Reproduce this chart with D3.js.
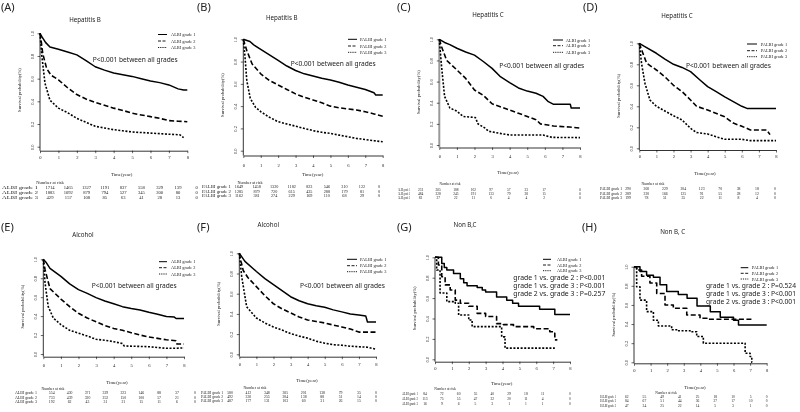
<!DOCTYPE html>
<html><head><meta charset="utf-8">
<script src="https://cdn.jsdelivr.net/npm/d3@7"></script>
<style>body{margin:0;background:#fff} svg{display:block;filter:grayscale(100%)}</style>
</head><body><svg id="c" width="800" height="412"></svg>
<script>
// ---------------- DATA ----------------
const timeTicks = [0,1,2,3,4,5,6,7,8];
const survTicks = [0,0.2,0.4,0.6,0.8,1.0];
const panelLetters = ["(A)","(B)","(C)","(D)","(E)","(F)","(G)","(H)"];
const panelTitles = ["Hepatitis B","Hepatitis B","Hepatitis C","Hepatitis C","Alcohol","Alcohol","Non B,C","Non B, C"];
const gradeLabelsALBI = ["ALBI grade 1","ALBI grade 2","ALBI grade 3"];
const gradeLabelsPALBI = ["PALBI grade 1","PALBI grade 2","PALBI grade 3"];
const pTextAll = ["P<0.001 between all grades"];
const pTextG = ["grade 1 vs. grade 2 : P<0.001","grade 1 vs. grade 3 : P<0.001","grade 2 vs. grade 3 : P=0.257"];
const pTextH = ["grade 1 vs. grade 2 : P=0.524","grade 1 vs. grade 3 : P<0.001","grade 2 vs. grade 3 : P<0.001"];
const yAxisTitle = "Survival probability(%)";
const xAxisTitle = "Time(year)";
const riskTitle = "Number at risk";

// survival curves [time(year), survival]
const survA1 = [[0,1],[0.1,0.97],[0.3,0.92],[0.54,0.88],[1,0.86],[1.5,0.835],[2,0.81],[2.5,0.76],[3,0.705],[3.5,0.675],[4,0.65],[4.5,0.635],[5,0.62],[5.5,0.6],[6,0.58],[6.5,0.565],[7,0.545],[7.5,0.51],[7.8,0.5],[8,0.5]];
const survA2 = [[0,1],[0.05,0.95],[0.15,0.82],[0.36,0.69],[0.6,0.63],[1,0.59],[1.5,0.52],[2,0.46],[2.5,0.42],[3,0.39],[3.5,0.365],[4,0.34],[4.5,0.32],[5,0.295],[5.5,0.28],[6,0.265],[6.5,0.25],[7,0.23],[7.5,0.225],[8,0.22]];
const survA3 = [[0,1],[0.05,0.9],[0.1,0.8],[0.27,0.56],[0.54,0.41],[1,0.34],[1.5,0.3],[2,0.25],[2.5,0.215],[3,0.18],[3.5,0.165],[4,0.15],[4.5,0.14],[5,0.13],[5.5,0.125],[6,0.12],[6.5,0.115],[7,0.11],[7.6,0.105],[7.8,0.08]];

const survB1 = [[0,1],[0.38,0.98],[0.6,0.95],[1,0.91],[1.5,0.86],[2,0.81],[2.5,0.76],[3,0.72],[3.5,0.69],[4,0.67],[4.5,0.65],[5,0.635],[5.5,0.615],[6,0.59],[6.5,0.57],[7,0.55],[7.5,0.52],[7.6,0.5],[8,0.5]];
const survB2 = [[0,1],[0.1,0.95],[0.2,0.9],[0.5,0.78],[1,0.69],[1.5,0.63],[2,0.59],[2.5,0.55],[3,0.51],[3.5,0.48],[4,0.455],[4.5,0.43],[5,0.4],[5.5,0.385],[6,0.375],[6.5,0.365],[7,0.35],[7.5,0.33],[8,0.31]];
const survB3 = [[0,1],[0.05,0.92],[0.1,0.84],[0.2,0.63],[0.4,0.47],[0.7,0.39],[1,0.35],[1.5,0.3],[2,0.26],[2.5,0.24],[3,0.22],[3.5,0.2],[4,0.18],[4.5,0.165],[5,0.155],[5.5,0.14],[6,0.125],[6.5,0.11],[7,0.1],[7.5,0.09],[8,0.08]];

const survC1 = [[0,1],[0.3,0.97],[0.6,0.95],[1,0.915],[1.5,0.88],[2,0.85],[2.5,0.79],[3,0.725],[3.45,0.65],[4,0.59],[4.5,0.54],[5,0.51],[5.5,0.49],[5.9,0.46],[6.2,0.41],[6.5,0.385],[7.45,0.385],[7.5,0.35],[8,0.35]];
const survC2 = [[0,1],[0.13,0.93],[0.42,0.8],[1,0.71],[1.5,0.63],[2,0.52],[2.5,0.47],[3,0.39],[3.5,0.36],[4,0.33],[4.5,0.3],[5,0.27],[5.5,0.24],[5.75,0.2],[6.5,0.18],[7.4,0.17],[8,0.16]];
const survC3 = [[0,1],[0.13,0.74],[0.3,0.46],[0.6,0.35],[1,0.32],[1.35,0.27],[2.05,0.26],[2.2,0.2],[2.6,0.16],[2.8,0.13],[3.45,0.11],[4,0.095],[5.9,0.095],[6.4,0.072],[8,0.07]];

const survD1 = [[0,1],[0.3,0.97],[1,0.905],[1.5,0.85],[2,0.8],[2.5,0.77],[3,0.73],[3.55,0.65],[4,0.587],[4.5,0.54],[5,0.49],[5.5,0.445],[6,0.4],[6.3,0.38],[8,0.38]];
const survD2 = [[0,1],[0.13,0.94],[0.43,0.81],[1,0.746],[1.5,0.68],[2,0.6],[2.5,0.54],[3,0.46],[3.35,0.4],[4,0.365],[5,0.3],[5.5,0.24],[6,0.21],[6.5,0.175],[7.45,0.175],[7.65,0.13]];
const survD3 = [[0,1],[0.13,0.81],[0.33,0.62],[0.62,0.46],[1,0.4],[2,0.31],[2.5,0.27],[3,0.19],[3.35,0.15],[4,0.137],[4.5,0.11],[5,0.086],[6,0.086],[6.5,0.073],[8,0.073]];

const survE1 = [[0,1],[0.15,0.97],[0.38,0.905],[1,0.82],[1.5,0.74],[2,0.68],[2.5,0.64],[3,0.595],[3.5,0.56],[4,0.53],[4.5,0.5],[5,0.48],[5.5,0.465],[6,0.44],[6.5,0.42],[7,0.395],[7.45,0.39],[7.55,0.375],[8,0.375]];
const survE2 = [[0,1],[0.1,0.89],[0.38,0.69],[1,0.58],[1.5,0.5],[2,0.43],[2.5,0.38],[3,0.34],[3.5,0.3],[4,0.27],[4.5,0.25],[5,0.225],[5.5,0.2],[6,0.18],[6.5,0.165],[7,0.15],[7.55,0.14],[7.6,0.105],[8,0.105]];
const survE3 = [[0,1],[0.1,0.75],[0.28,0.5],[0.57,0.38],[1,0.31],[1.5,0.25],[2,0.22],[2.5,0.19],[3,0.155],[3.5,0.145],[4,0.13],[4.5,0.11],[4.6,0.085],[6,0.077],[7,0.06],[7.5,0.06],[8,0.065]];

const survF1 = [[0,1],[0.33,0.92],[1,0.82],[1.5,0.75],[2,0.69],[2.5,0.63],[3,0.57],[3.5,0.53],[4,0.5],[4.5,0.48],[5,0.465],[5.5,0.44],[6,0.42],[6.5,0.4],[7,0.39],[7.4,0.38],[7.5,0.32],[8,0.32]];
const survF2 = [[0,1],[0.1,0.92],[0.23,0.83],[0.5,0.76],[1,0.67],[1.5,0.58],[2,0.5],[2.5,0.45],[3,0.41],[3.5,0.37],[4,0.34],[4.5,0.325],[5,0.31],[5.5,0.29],[6,0.27],[6.5,0.25],[7,0.22],[8,0.22]];
const survF3 = [[0,1],[0.14,0.77],[0.43,0.47],[1,0.36],[1.5,0.31],[2,0.27],[2.5,0.24],[3,0.205],[3.5,0.18],[4,0.16],[4.5,0.13],[5,0.11],[5.5,0.095],[6,0.09],[6.5,0.08],[7,0.075],[7.5,0.07],[8,0.05]];

const survG1 = [[0,1],[0.4,0.94],[0.55,0.9],[0.7,0.875],[1.1,0.84],[1.5,0.79],[1.7,0.75],[1.9,0.72],[2.5,0.705],[2.8,0.68],[3,0.66],[3.65,0.61],[4.25,0.58],[4.6,0.55],[4.95,0.52],[6.2,0.49],[7.1,0.44],[8,0.44]];
const survG2 = [[0,1],[0.2,0.925],[0.4,0.81],[0.6,0.73],[0.9,0.68],[1.2,0.58],[1.5,0.55],[2,0.52],[2.5,0.45],[3,0.42],[3.65,0.35],[4.05,0.34],[4.65,0.32],[5.85,0.3],[6.8,0.27],[7,0.255],[7.1,0.19],[7.25,0.19]];
const survG3 = [[0,1],[0.1,0.875],[0.3,0.65],[0.7,0.565],[1.2,0.55],[1.4,0.435],[2,0.385],[2.2,0.32],[3.95,0.22],[4.15,0.11],[7.1,0.11]];

const survH1 = [[0,1],[0.36,0.95],[0.76,0.91],[1.17,0.89],[1.57,0.81],[1.97,0.74],[2.67,0.71],[3.2,0.67],[3.8,0.59],[4.6,0.53],[5.2,0.47],[6,0.44],[6.3,0.39],[8,0.39]];
const survH2 = [[0,1],[0.16,0.965],[0.46,0.9],[0.96,0.83],[1.37,0.72],[1.87,0.6],[2.37,0.565],[3.18,0.495],[3.98,0.46],[4.4,0.45],[7.2,0.45]];
const survH3 = [[0,1],[0.16,0.79],[0.36,0.65],[0.76,0.53],[1.17,0.44],[1.47,0.38],[2.27,0.34],[2.57,0.33],[3.38,0.32],[3.78,0.27],[4.18,0.2],[6.7,0.095],[7,0.06],[7.1,0],[7.12,0]];

// numbers at risk at years 0..8
const riskA1 = [1714,1465,1327,1191,837,558,329,139,0];
const riskA2 = [1883,1092,879,794,527,345,200,80,0];
const riskA3 = [429,157,108,85,63,41,28,13,0];
const riskB1 = [1649,1458,1320,1182,823,546,310,122,0];
const riskB2 = [1285,879,720,615,435,288,179,81,0];
const riskB3 = [1162,381,274,229,169,110,68,29,0];
const riskC1 = [231,205,188,162,97,57,33,17,0];
const riskC2 = [484,328,245,191,133,79,38,15,0];
const riskC3 = [83,27,22,11,6,4,4,2,0];
const riskD1 = [290,260,229,204,123,70,38,18,0];
const riskD2 = [289,220,166,125,91,55,28,12,0];
const riskD3 = [199,78,51,35,22,11,8,4,0];
const riskE1 = [554,430,371,329,223,146,88,37,0];
const riskE2 = [733,439,320,252,150,100,57,21,0];
const riskE3 = [192,62,43,31,21,15,11,6,0];
const riskF1 = [580,412,348,305,201,138,79,35,0];
const riskF2 = [492,330,255,204,138,88,51,14,0];
const riskF3 = [487,177,131,103,60,31,26,15,0];
const riskG1 = [84,72,60,55,40,29,18,11,0];
const riskG2 = [113,75,55,47,32,20,11,4,0];
const riskG3 = [16,9,6,5,3,1,1,1,0];
const riskH1 = [62,55,49,41,25,18,10,5,0];
const riskH2 = [84,67,51,44,36,27,17,10,0];
const riskH3 = [47,34,25,22,14,5,3,1,0];

// ---------------- LAYOUT ----------------
// cols: [centre of year-0 column, centre of year-7 column, centre of year-8 column]
const layout = [
 {lx:1,ly:11,tx:85,ty:20,x0:40,x8:187.3,y0:146.7,y1:33.3,ax:150.7,xl:157,leg:[158,167],legT:171,legY:[34.5,41,47.5],px:92.7,pw:85,py:[59.3],timeX:121.7,timeY:174,narX:50,narY:182.7,rowY:[188,192.8,197.6],rowLX:2,lw:36,tf:4.6,cols:[50,178,196.7],thick:true,step:false},
 {lx:197,ly:11,tx:281.7,ty:18,x0:243.3,x8:382.7,y0:150.7,y1:39.3,ax:155.5,xl:165.5,leg:[348,357],legT:360,legY:[39.3,46,52.3],px:290.7,pw:85,py:[63.3],timeX:312.7,timeY:174,narX:250,narY:182.7,rowY:[187,191.5,196],rowLX:202,lw:29,tf:4.2,cols:[239,362,379],thick:false,step:false},
 {lx:397,ly:11,tx:488,ty:15,x0:439.3,x8:580,y0:145,y1:39.3,ax:147.5,xl:156,leg:[553,563],legT:565.7,legY:[40,45.7,52.3],px:499.3,pw:85,py:[65.7],timeX:508,timeY:172.7,narX:450,narY:183.3,rowY:[189.3,193.5,197.7],rowLX:398,lw:12,tf:3.5,cols:[420.5,544,580],thick:true,step:false},
 {lx:583,ly:11,tx:677,ty:16,x0:639.3,x8:776,y0:148.3,y1:43.3,ax:150,xl:156,leg:[747,757],legT:760.7,legY:[44,50.7,56.7],px:686,pw:85,py:[65.7],timeX:705,timeY:173.3,narX:653,narY:183.7,rowY:[188.7,193.2,197.5],rowLX:600,lw:22,tf:3.8,cols:[628,757,775],thick:false,step:false},
 {lx:1,ly:231,tx:83,ty:235,x0:43.3,x8:184,y0:354,y1:259.3,ax:356.7,xl:365,leg:[159,167],legT:171,legY:[261.7,267.7,274],px:91.7,pw:85,py:[285.7],timeX:117,timeY:382.7,narX:53,narY:388.3,rowY:[392.7,397.2,401.7],rowLX:15,lw:22,tf:3.8,cols:[51.7,177,195],thick:false,step:false},
 {lx:197,ly:231,tx:268.3,ty:225,x0:239.3,x8:376,y0:354.3,y1:253.3,ax:356.7,xl:364,leg:[347,357],legT:360,legY:[259.3,265.7,271.7],px:300,pw:85,py:[285.7],timeX:307,timeY:380,narX:255,narY:387.3,rowY:[392.7,396.7,400.7],rowLX:201,lw:22,tf:3.8,cols:[230,359,376],thick:false,step:false},
 {lx:397,ly:231,tx:465,ty:225,x0:435,x8:570,y0:359.3,y1:257.3,ax:361.7,xl:368,leg:[543,551],legT:557,legY:[259.3,265,270.7],px:513.3,pw:92,py:[277.3,285.2,293.3],timeX:501.7,timeY:383.3,narX:445,narY:388.3,rowY:[394,399,404],rowLX:402,lw:16,tf:3.6,cols:[425,542.7,570],thick:false,step:true},
 {lx:582,ly:231,tx:672.7,ty:231.7,x0:634,x8:766.7,y0:362.3,y1:266.7,ax:363.3,xl:370.7,leg:[740.7,748.3],legT:751.7,legY:[267.7,273.3,279],px:706,pw:90,py:[286,294,301.7],timeX:695,timeY:387.3,narX:666,narY:392.7,rowY:[396.7,401,405.7],rowLX:600,lw:16,tf:3.6,cols:[626.7,750.7,766.7],thick:false,step:true}
];

const panels = [
 {surv:[survA1,survA2,survA3],risk:[riskA1,riskA2,riskA3],grades:gradeLabelsALBI,p:pTextAll},
 {surv:[survB1,survB2,survB3],risk:[riskB1,riskB2,riskB3],grades:gradeLabelsPALBI,p:pTextAll},
 {surv:[survC1,survC2,survC3],risk:[riskC1,riskC2,riskC3],grades:gradeLabelsALBI,p:pTextAll},
 {surv:[survD1,survD2,survD3],risk:[riskD1,riskD2,riskD3],grades:gradeLabelsPALBI,p:pTextAll},
 {surv:[survE1,survE2,survE3],risk:[riskE1,riskE2,riskE3],grades:gradeLabelsALBI,p:pTextAll},
 {surv:[survF1,survF2,survF3],risk:[riskF1,riskF2,riskF3],grades:gradeLabelsPALBI,p:pTextAll},
 {surv:[survG1,survG2,survG3],risk:[riskG1,riskG2,riskG3],grades:gradeLabelsALBI,p:pTextG},
 {surv:[survH1,survH2,survH3],risk:[riskH1,riskH2,riskH3],grades:gradeLabelsPALBI,p:pTextH}
];

const dashes = [null, "5,2.5", "2,1.6"];
const widths = [1.5, 1.6, 1.6];
const SERIF = "'Liberation Serif','Times New Roman',serif";
const SANS = "'Noto Sans','Open Sans',sans-serif";

const svg = d3.select('#c');

function drawPanel(d, L, i){
  const g = svg.append('g');
  const x = d3.scaleLinear().domain([0,8]).range([L.x0, L.x8]);
  const y = d3.scaleLinear().domain([0,1]).range([L.y0, L.y1]);

  g.append('text').attr('x',L.lx).attr('y',L.ly).attr('font-family',SANS).attr('font-size',11).attr('fill','#222').text(panelLetters[i]);
  g.append('text').attr('x',L.tx).attr('y',L.ty+2.2).attr('text-anchor','middle').attr('font-family',SANS).attr('font-size',6.2).attr('fill','#222').text(panelTitles[i]);

  // y axis
  const ya = g.append('g').attr('transform',`translate(${L.x0},0)`)
    .call(d3.axisLeft(y).tickValues(survTicks).tickFormat(d3.format('.1f')).tickSize(2.5).tickSizeOuter(0));
  ya.select('.domain').attr('d',`M0,${L.y1}V${L.ax}`).attr('stroke', L.thick ? '#999' : '#000').attr('stroke-width', L.thick ? 2 : 0.8);
  ya.selectAll('.tick line').attr('stroke-width',0.6);
  ya.selectAll('.tick text').attr('x',0).attr('y',-6.5).attr('dy',0).attr('transform','rotate(-90)')
    .attr('text-anchor','middle').attr('font-family',SERIF).attr('font-size',4.5).attr('fill','#222');
  g.append('text').attr('transform',`translate(${L.x0-19},${(L.y0+L.y1)/2}) rotate(-90)`).attr('text-anchor','middle')
    .attr('font-family',SERIF).attr('font-size',4.6).attr('fill','#222').text(yAxisTitle);

  // x axis
  const xa = g.append('g').attr('transform',`translate(0,${L.ax})`)
    .call(d3.axisBottom(x).tickValues(timeTicks).tickFormat(d3.format('d')).tickSize(2.5).tickSizeOuter(0));
  xa.select('.domain').attr('stroke-width',0.8);
  xa.selectAll('.tick line').attr('stroke-width',0.6);
  xa.selectAll('.tick text').attr('y',L.xl - L.ax + 1.6).attr('dy',0).attr('font-family',SERIF).attr('font-size',4.6).attr('fill','#222');
  g.append('text').attr('x',L.timeX).attr('y',L.timeY+1.6).attr('text-anchor','middle').attr('font-family',SERIF).attr('font-size',4.8).attr('fill','#222').text(xAxisTitle);

  // curves
  const line = d3.line().x(p=>x(p[0])).y(p=>y(p[1])).curve(L.step ? d3.curveStepAfter : d3.curveLinear);
  d.surv.forEach((s,k)=>{
    g.append('path').datum(s).attr('d',line).attr('fill','none').attr('stroke','#000')
      .attr('stroke-width',widths[k]).attr('stroke-dasharray',dashes[k]).attr('stroke-linejoin','round');
  });

  // legend
  d.grades.forEach((lab,k)=>{
    g.append('line').attr('x1',L.leg[0]).attr('x2',L.leg[1]).attr('y1',L.legY[k]).attr('y2',L.legY[k])
      .attr('stroke','#000').attr('stroke-width',k==0?1:0.9).attr('stroke-dasharray',k==0?null:(k==1?"3,1.5":"1.2,1"));
    g.append('text').attr('x',L.legT).attr('y',L.legY[k]+1.5).attr('font-family',SERIF).attr('font-size',4.4).attr('fill','#222').text(lab);
  });

  // p text
  d.p.forEach((t,k)=>{
    g.append('text').attr('x',L.px).attr('y',L.py[k]+2.3).attr('font-family',SANS).attr('font-size',6.6)
      .attr('textLength',L.pw).attr('lengthAdjust','spacingAndGlyphs').attr('fill','#222').text(t);
  });

  // risk table
  const cx = d3.scaleLinear().domain([0,7]).range([L.cols[0], L.cols[1]]);
  const colX = j => j <= 7 ? cx(timeTicks[j]) : L.cols[2];
  g.append('text').attr('x',L.narX).attr('y',L.narY+1.5).attr('text-anchor','middle').attr('font-family',SERIF).attr('font-size',L.tf).attr('fill','#222').text(riskTitle);
  d.risk.forEach((row,k)=>{
    g.append('text').attr('x',L.rowLX).attr('y',L.rowY[k]+1.4).attr('font-family',SERIF).attr('font-size',L.tf)
      .attr('textLength',L.lw).attr('lengthAdjust','spacingAndGlyphs').attr('fill','#222').text(d.grades[k]);
    g.selectAll(null).data(row).enter().append('text')
      .attr('x',(v,j)=>colX(j)).attr('y',L.rowY[k]+1.4).attr('text-anchor','middle')
      .attr('font-family',SERIF).attr('font-size',L.tf).attr('fill','#222').text(v=>v);
  });
}

panels.forEach((d,i)=>drawPanel(d, layout[i], i));
</script>
</body></html>
